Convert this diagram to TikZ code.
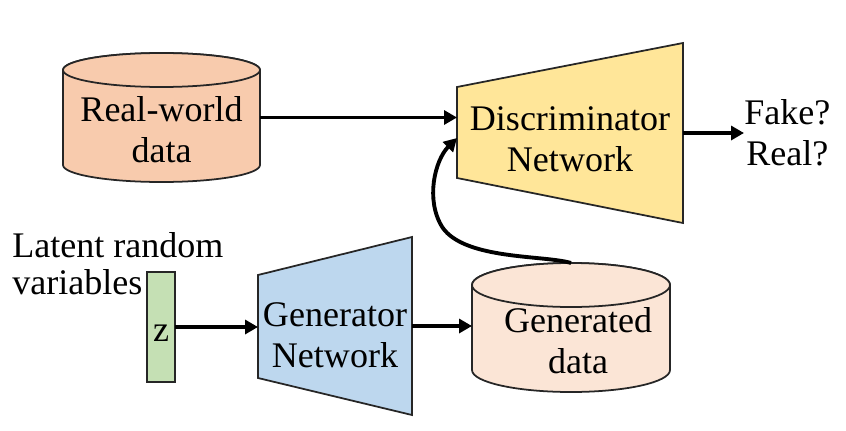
\documentclass[tikz,border=0pt]{standalone}
\usepackage{fontspec}
\setmainfont{Liberation Serif}
\usetikzlibrary{arrows.meta,positioning,calc}

\definecolor{realfill}{HTML}{F8CBAD}
\definecolor{discfill}{HTML}{FFE699}
\definecolor{genfill}{HTML}{BDD7EE}
\definecolor{gdatafill}{HTML}{FBE5D6}
\definecolor{zfill}{HTML}{C5E0B4}

\begin{document}
\begin{tikzpicture}[
    font=\fontsize{20.5}{23.5}\selectfont,
    frame/.style={rectangle, inner sep=0pt, outer sep=0pt},
    txt/.style={align=center, inner sep=0pt},
    outline/.style={draw=black!85, line width=1pt},
    arrow/.style={-{Triangle[length=0.26cm, width=0.28cm]}, line width=2.2pt}
]
\useasboundingbox (0,0) rectangle (16.92,-8.6);

% Real-world data (cylinder)
\draw[outline, fill=realfill] (1.26,-1.40) -- (1.26,-3.30)
    arc[start angle=180, end angle=360, x radius=1.97, y radius=0.34]
    -- (5.20,-1.40)
    arc[start angle=0, end angle=180, x radius=1.97, y radius=0.34] -- cycle;
\draw[outline, fill=realfill] (3.23,-1.40) ellipse [x radius=1.97, y radius=0.34];

% Discriminator (trapezoid)
\draw[outline, fill=discfill] (9.14,-1.74) -- (13.66,-0.86) -- (13.66,-4.46) -- (9.14,-3.56) -- cycle;

% Generator (trapezoid)
\draw[outline, fill=genfill] (5.16,-5.50) -- (8.24,-4.74) -- (8.24,-8.30) -- (5.16,-7.56) -- cycle;

% Generated data (cylinder)
\draw[outline, fill=gdatafill] (9.44,-5.70) -- (9.44,-7.40)
    arc[start angle=180, end angle=360, x radius=1.98, y radius=0.44]
    -- (13.40,-5.70)
    arc[start angle=0, end angle=180, x radius=1.98, y radius=0.44] -- cycle;
\draw[outline, fill=gdatafill] (11.42,-5.70) ellipse [x radius=1.98, y radius=0.44];

% Nodes
\node[frame, minimum width=3.94cm, minimum height=2.58cm,
    label={[txt, yshift=-0.25cm]center:Real-world\\data}] (real) at (3.23,-2.35) {};
\node[frame, minimum width=4.52cm, minimum height=3.60cm,
    label={[txt, yshift=-0.12cm]center:Discriminator\\Network}] (disc) at (11.40,-2.66) {};
\node[txt, right=1.22cm of disc] (out) {Fake?\\Real?};
\node[frame, minimum width=3.08cm, minimum height=3.56cm,
    label={[txt, yshift=-0.18cm]center:Generator\\Network}] (gen) at (6.70,-6.52) {};
\node[frame, minimum width=3.96cm, minimum height=2.58cm,
    label={[txt, xshift=0.14cm, yshift=-0.27cm]center:Generated\\data}] (gdata) at (11.42,-6.55) {};
\node[frame, outline, fill=zfill, minimum width=0.56cm, minimum height=2.20cm,
    label={[yshift=-0.13cm]center:z}] (zvar) at (3.22,-6.54) {};
\node[txt, align=left, anchor=north west, font=\fontsize{20.5}{21}\selectfont] (latent) at (0.24,-4.65) {Latent random\\variables};

% Arrows
\draw[arrow] (real.east) -- (real.east -| disc.west);
\draw[arrow] (disc.east) -- (out.west);
\draw[arrow] (zvar.east) -- (zvar.east -| gen.west);
\draw[arrow] (gen.east) -- (gen.east -| gdata.west);
\draw[arrow] (gdata.north) .. controls (10.9,-5.1) and (9.3,-5.2) .. (8.85,-4.55)
    .. controls (8.5,-4.0) and (8.7,-3.2) .. ([yshift=-0.1cm]disc.west);

\end{tikzpicture}
\end{document}
